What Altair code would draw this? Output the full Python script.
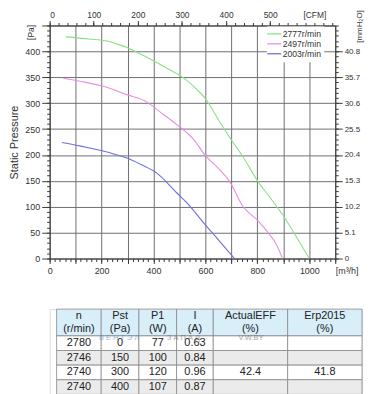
import altair as alt
import pandas as pd

FONT = "Liberation Sans"

# ---- fan curves: flow [m3/h] vs static pressure [Pa] ----
series_names = ["2777r/min", "2497r/min", "2003r/min"]
series_colors = ["#8ae284", "#ea8cea", "#6f6fd9"]

q_2777 = [62, 150, 222, 260, 300, 337, 400, 450, 489, 528, 560, 604, 650, 700, 744, 802, 850, 878, 897, 950, 1000]
p_2777 = [428, 424, 420, 414, 407, 398, 382, 368, 357, 344, 330, 306, 268, 229, 197, 149, 117, 98, 85, 42, 0]

q_2497 = [52, 120, 196, 300, 375, 420, 489, 528, 553, 598, 650, 693, 744, 802, 846, 870, 897]
p_2497 = [348, 342, 334, 316, 302, 285, 259, 243, 231, 200, 174, 149, 101, 73, 47, 30, 0]

q_2003 = [47, 120, 184, 240, 298, 350, 413, 489, 528, 598, 650, 712]
p_2003 = [224, 217, 210, 203, 194, 182, 165, 127, 108, 66, 36, 0]

# ---- axes ----
x_major = list(range(0, 1101, 100))
x_minor = list(range(0, 1101, 20))
y_major = list(range(0, 451, 50))
y_minor = list(range(0, 451, 10))
cfm_major = [0, 100, 200, 300, 400, 500, 600]
cfm_minor = list(range(0, 641, 20))
mm_ticks = [0, 5.1, 10.2, 15.3, 20.4, 25.5, 30.6, 35.7, 40.8]
Q_MAX = 1100
P_MAX = 450
CFM_PER_M3H = 1 / 1.699
MM_PER_PA = 1 / 9.80665

# ---- table ----
table_header = ["n\n(r/min)", "Pst\n(Pa)", "P1\n(W)", "I\n(A)", "ActualEFF\n(%)", "Erp2015\n(%)"]
col_n = ["2780", "2746", "2740", "2740"]
col_pst = ["0", "150", "300", "400"]
col_p1 = ["77", "100", "120", "107"]
col_i = ["0.63", "0.84", "0.96", "0.87"]
col_eff = ["", "", "42.4", ""]
col_erp = ["", "", "41.8", ""]
col_widths = [45, 38, 38, 37, 75, 75]
row_shade = ["white", "gray", "white", "gray"]
watermark_a = "В Е Н Т Э Л"
watermark_b = "З А П А Д"
watermark_c = "V.W.BY"

# ================= plot panel =================
rows = []
for name, qs, ps in zip(series_names, [q_2777, q_2497, q_2003], [p_2777, p_2497, p_2003]):
    for i, (q, p) in enumerate(zip(qs, ps)):
        rows.append({"series": name, "Q": q, "P": p, "i": i})
curves = pd.DataFrame(rows)

W, H = 288, 235
axis_col = "#3a3a3a"
lab_col = "#333333"

xs = alt.Scale(domain=[0, Q_MAX], nice=False, zero=False)
ys = alt.Scale(domain=[0, P_MAX], nice=False, zero=False)

lines = alt.Chart(curves).mark_line(strokeWidth=1.1, interpolate="monotone").encode(
    x=alt.X("Q:Q", scale=xs, axis=alt.Axis(
        orient="bottom", values=x_major, format="d",
        labelExpr="datum.value == 1100 ? '[m³/h]' : (datum.value % 200 == 0 ? datum.label : '')",
        labelAlign={"condition": {"test": "datum.value == 1100", "value": "left"}, "value": "center"},
        grid=True, gridColor="#6f6f6f", gridWidth=1, gridOpacity=1,
        tickSize=5, tickColor=axis_col, domainColor=axis_col, labelColor=lab_col,
        labelFontSize=9, labelFont=FONT, labelPadding=3, title=None)),
    y=alt.Y("P:Q", scale=ys, axis=alt.Axis(
        orient="left", values=y_major, format="d",
        labelExpr="datum.value > 400 ? '' : datum.label",
        grid=True, gridColor="#6f6f6f", gridWidth=1, gridOpacity=1,
        tickSize=8, tickColor=axis_col, domainColor=axis_col, labelColor=lab_col,
        labelFontSize=9, labelFont=FONT, labelPadding=2,
        title="Static Pressure", titleFont=FONT, titleFontSize=11, titleFontWeight="normal",
        titleColor="#333333", titlePadding=5)),
    color=alt.Color("series:N", scale=alt.Scale(domain=series_names, range=series_colors),
                    legend=alt.Legend(orient="none", legendX=219, legendY=1, title=None,
                                      symbolType="M-2,0H2", symbolSize=49, symbolStrokeWidth=1.3,
                                      symbolFillColor="transparent",
                                      labelFontSize=8.7, labelFont=FONT, labelColor="#333333",
                                      labelOffset=4, rowPadding=0, padding=3,
                                      fillColor="white")),
    order="i:Q",
)

dummy = pd.DataFrame({"Q": [0, Q_MAX], "P": [0, P_MAX],
                      "cfm": [0, Q_MAX * CFM_PER_M3H], "mm": [0, P_MAX * MM_PER_PA]})

minor_bl = alt.Chart(dummy).mark_point(opacity=0).encode(
    x=alt.X("Q:Q", scale=xs, axis=alt.Axis(orient="bottom", values=x_minor, labels=False,
                                           grid=False, domain=False, tickSize=3,
                                           tickColor=axis_col, title=None)),
    y=alt.Y("P:Q", scale=ys, axis=alt.Axis(orient="left", values=y_minor, labels=False,
                                           grid=False, domain=False, tickSize=3,
                                           tickColor=axis_col, title=None)),
)

cfm_scale = alt.Scale(domain=[0, Q_MAX * CFM_PER_M3H], nice=False, zero=False)
mm_scale = alt.Scale(domain=[0, P_MAX * MM_PER_PA], nice=False, zero=False)

major_tr = alt.Chart(dummy).mark_point(opacity=0).encode(
    x=alt.X("cfm:Q", scale=cfm_scale, axis=alt.Axis(
        orient="top", values=cfm_major, format="d",
        labelExpr="datum.value == 600 ? '[CFM]' : datum.label",
        tickColor={"condition": {"test": "datum.value == 600", "value": "transparent"}, "value": axis_col},
        grid=False, tickSize=5, domainColor=axis_col, labelColor=lab_col,
        labelFontSize=8.5, labelFont=FONT, labelPadding=1, title=None)),
    y=alt.Y("mm:Q", scale=mm_scale, axis=alt.Axis(
        orient="right", values=mm_ticks, format=".1~f",
        grid=False, tickSize=7, tickColor=axis_col, domainColor=axis_col, labelColor=lab_col,
        labelFontSize=8, labelFont=FONT, labelPadding=2, title=None)),
)

minor_tr = alt.Chart(dummy).mark_point(opacity=0).encode(
    x=alt.X("cfm:Q", scale=cfm_scale, axis=alt.Axis(orient="top", values=cfm_minor, labels=False,
                                                    grid=False, domain=False, tickSize=3,
                                                    tickColor=axis_col, title=None)),
    y=alt.Y("P:Q", scale=ys, axis=alt.Axis(orient="right", values=y_minor, labels=False,
                                           grid=False, domain=False, tickSize=3,
                                           tickColor=axis_col, title=None)),
)

pa_label = alt.Chart(dummy.head(1)).mark_text(
    text="[Pa]", angle=270, fontSize=8.5, font=FONT, color="#333333", baseline="middle", align="center"
).encode(x=alt.value(-19), y=alt.value(7))

mm_label = alt.Chart(dummy.head(1)).mark_text(
    text="[mmH₂O]", angle=270, fontSize=8, font=FONT, color="#333333", baseline="middle", align="center"
).encode(x=alt.value(313), y=alt.value(1))

plot = alt.layer(lines, minor_bl, major_tr, minor_tr, pa_label, mm_label).resolve_scale(
    x="independent", y="independent"
).resolve_axis(x="independent", y="independent").properties(width=W, height=H)

# ================= table panel =================
TABLE_LEFT = 7
HEAD_H = 27
ROW_H = 14.75
LINE_H = 13
cols_data = [col_n, col_pst, col_p1, col_i, col_eff, col_erp]
cells = []
x0 = TABLE_LEFT
for c, (hdr, w) in enumerate(zip(table_header, col_widths)):
    cells.append({"x0": x0, "x1": x0 + w, "y0": 0, "y1": HEAD_H, "bg": "head", "label": hdr,
                  "ty": HEAD_H / 2 - LINE_H / 2, "kind": "head"})
    for r, val in enumerate(cols_data[c]):
        y0 = HEAD_H + r * ROW_H
        cells.append({"x0": x0, "x1": x0 + w, "y0": y0, "y1": y0 + ROW_H,
                      "bg": row_shade[r], "label": val, "ty": y0 + ROW_H / 2, "kind": "body"})
    x0 += w
cells_df = pd.DataFrame(cells)
cells_df["xc"] = (cells_df["x0"] + cells_df["x1"]) / 2
TW = x0
TH = HEAD_H + 4 * ROW_H

txs = alt.Scale(domain=[0, TW], nice=False, zero=False)
tys = alt.Scale(domain=[0, TH], nice=False, zero=False, reverse=True)

rects = alt.Chart(cells_df).mark_rect(stroke="#8a8a8a", strokeWidth=0.8).encode(
    x=alt.X("x0:Q", scale=txs, axis=None), x2="x1:Q",
    y=alt.Y("y0:Q", scale=tys, axis=None), y2="y1:Q",
    fill=alt.Fill("bg:N", scale=alt.Scale(domain=["head", "white", "gray"],
                                          range=["#d8eef9", "#ffffff", "#ebebeb"]), legend=None),
)
texts = alt.Chart(cells_df).mark_text(fontSize=11, font=FONT, color="#222222", lineBreak="\n",
                                      lineHeight=LINE_H, baseline="middle", align="center").encode(
    x=alt.X("xc:Q", scale=txs, axis=None),
    y=alt.Y("ty:Q", scale=tys, axis=None),
    text="label:N",
)

wm_df = pd.DataFrame({"x": [70, 135, 203], "y": [HEAD_H + 2] * 3,
                      "t": [watermark_a, watermark_b, watermark_c]})
wm1 = alt.Chart(wm_df.iloc[[0]]).mark_text(fontSize=7.5, font=FONT, baseline="middle", align="center",
                                           color="#4a8fd0", opacity=0.6).encode(
    x=alt.X("x:Q", scale=txs, axis=None), y=alt.Y("y:Q", scale=tys, axis=None), text="t:N")
wm2 = alt.Chart(wm_df.iloc[[1, 2]]).mark_text(fontSize=7.5, font=FONT, baseline="middle", align="center",
                                              color="#666666", opacity=0.6).encode(
    x=alt.X("x:Q", scale=txs, axis=None), y=alt.Y("y:Q", scale=tys, axis=None), text="t:N")

table = alt.layer(rects, texts, wm1, wm2).properties(width=TW, height=TH)

chart = alt.vconcat(plot, table, spacing=32).properties(padding=0).configure_view(
    stroke=None).configure(font=FONT, background="white")

chart.save("out.html", embed_options={"renderer": "svg", "actions": False})
